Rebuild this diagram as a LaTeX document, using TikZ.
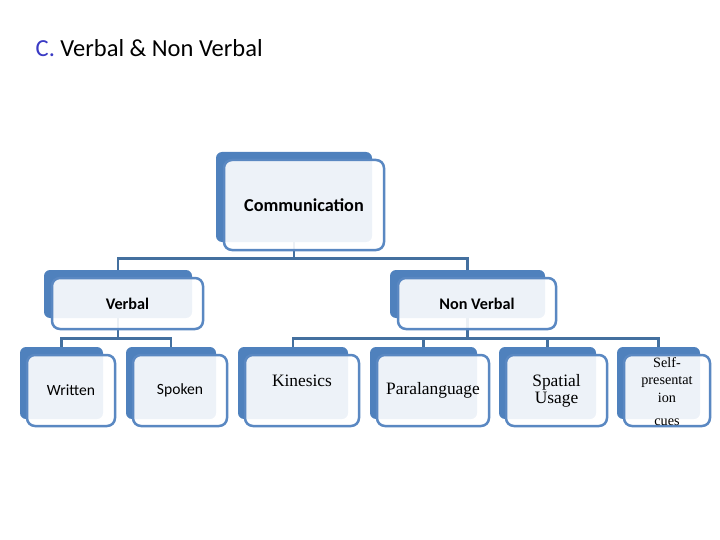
\documentclass[tikz,border=0pt]{standalone}
\usepackage{fontspec}
\setmainfont{Carlito}
\newfontfamily\calibri{Carlito}
\newfontfamily\cambria{Liberation Serif}
\usetikzlibrary{backgrounds}
\definecolor{boxblue}{HTML}{4F81BD}
\definecolor{edgeblue}{HTML}{5A88C2}
\definecolor{linkblue}{HTML}{44709F}
\definecolor{titleblue}{HTML}{3A3AC4}
\tikzset{
  backbox/.style={fill=boxblue, rounded corners=6pt, inner sep=0pt},
  frontbox/.style={draw=edgeblue, line width=2.5pt, fill=white, fill opacity=0.9, text opacity=1, rounded corners=8pt, inner sep=0pt, align=center},
  conn/.style={draw=linkblue, line width=2.8pt},
  topfont/.style={font=\calibri\bfseries\fontsize{18.2}{21}\selectfont},
  midfont/.style={font=\calibri\bfseries\fontsize{16.2}{19}\selectfont},
  lowfont/.style={font=\calibri\fontsize{15.6}{18}\selectfont},
  serfont/.style={font=\cambria\fontsize{17.4}{17}\selectfont}
}
\begin{document}
\begin{tikzpicture}[x=1pt,y=-1pt]
\useasboundingbox (0,0) rectangle (720,540);
% title
\node[anchor=base west, inner sep=0pt, font=\calibri\fontsize{24.5}{28}\selectfont] (title) at (35.5,57) {\textcolor{titleblue}{C.} Verbal \& Non Verbal};
% top level
\node[backbox, minimum width=156, minimum height=90] (comm) at (294,197) {};
\node[frontbox, topfont, minimum width=160, minimum height=90] (commtext) at (304,205) {Communication};
% second level
\node[backbox, minimum width=148, minimum height=48] (verbal) at (118,294) {};
\node[frontbox, midfont, minimum width=151, minimum height=51] (verbaltext) at (127.5,303.5) {Verbal};
\node[backbox, minimum width=155, minimum height=48] (nonverbal) at (467.5,294) {};
\node[frontbox, midfont, minimum width=158, minimum height=51] (nonverbaltext) at (477,303.5) {Non Verbal};
% third level
\node[backbox, minimum width=83, minimum height=72] (written) at (61.5,383) {};
\node[frontbox, lowfont, minimum width=88, minimum height=71] (writtentext) at (71,390.5) {Written};
\node[backbox, minimum width=90, minimum height=72] (spoken) at (171,383) {};
\node[frontbox, lowfont, minimum width=94, minimum height=71] (spokentext) at (180,390.5) {Spoken};
\node[backbox, minimum width=110, minimum height=72] (kinesics) at (293,383) {};
\node[frontbox, serfont, minimum width=114, minimum height=71] (kinesicstext) at (302,390.5) {\raisebox{4pt}[0pt][0pt]{Kinesics}};
\node[backbox, minimum width=107, minimum height=72] (paralang) at (423.5,383) {};
\node[frontbox, serfont, minimum width=112, minimum height=71] (paralangtext) at (433,390.5) {Paralanguage};
\node[backbox, minimum width=97, minimum height=72] (spatial) at (547.5,383) {};
\node[frontbox, serfont, minimum width=101, minimum height=71] (spatialtext) at (556.5,390.5) {Spatial\\Usage};
\node[backbox, minimum width=83, minimum height=72] (selfpres) at (658.5,383) {};
\node[frontbox, font=\cambria\fontsize{14.2}{17.5}\selectfont, minimum width=86, minimum height=71] (selfprestext) at (667,390.5) {\raisebox{-6pt}[0pt][0pt]{\begin{tabular}{@{}c@{}}Self-\\presentat\\ion\\[6pt]cues\end{tabular}}};
% connectors
\begin{scope}[on background layer]
\draw[conn] (comm.south) -- ++(0,16) coordinate (forkA) -| (verbal.north);
\draw[conn] (forkA) -| (nonverbal.north);
\draw[conn] (verbal.south) -- ++(0,20) coordinate (forkB) -| (written.north);
\draw[conn] (forkB) -| (spoken.north);
\draw[conn] (nonverbal.south) -- ++(0,20) coordinate (forkC) -| (kinesics.north);
\draw[conn] (forkC) -| (paralang.north);
\draw[conn] (forkC) -| (spatial.north);
\draw[conn] (forkC) -| (selfpres.north);
\end{scope}
\end{tikzpicture}
\end{document}
